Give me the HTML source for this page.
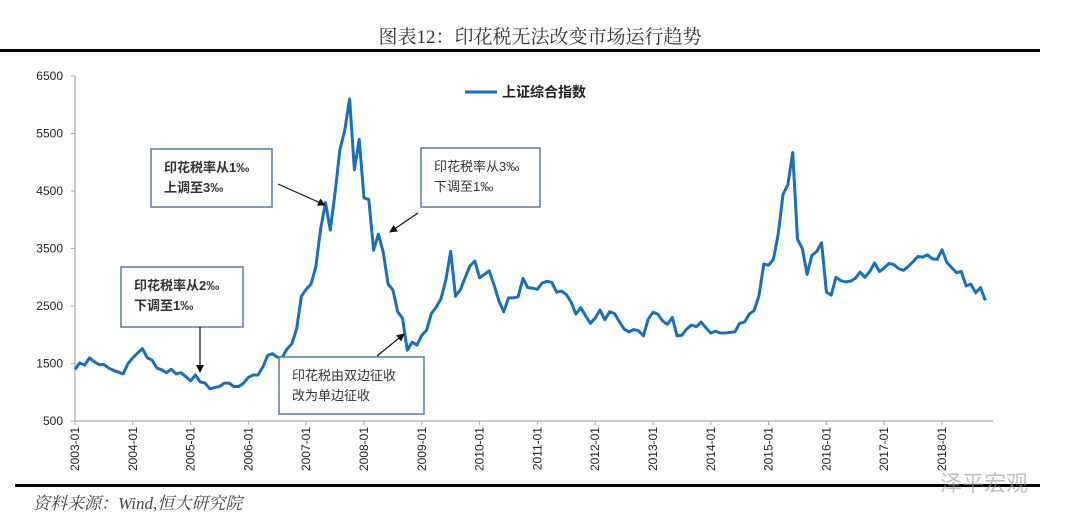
<!DOCTYPE html>
<html><head><meta charset="utf-8">
<style>
html,body{margin:0;padding:0;background:#fff;}
svg{display:block;font-family:"Liberation Sans","Noto Sans CJK SC",sans-serif;}
</style></head>
<body>
<svg id="chart" width="1080" height="530" viewBox="0 0 1080 530">
<text x="540" y="43" text-anchor="middle" font-family="'Liberation Serif','Noto Serif CJK SC',serif" font-size="19" fill="#333">图表12：印花税无法改变市场运行趋势</text>
<rect x="0" y="49" width="1040" height="3" fill="#000"/>
<g id="axes"></g>
<g id="series"></g>
<g>
<line x1="465" y1="92" x2="497" y2="92" stroke="#1a6fb8" stroke-width="3"/>
<text x="502" y="97" font-size="14" font-weight="bold" fill="#222">上证综合指数</text>
</g>
<g id="annotations"></g>
<rect x="15" y="484" width="1025" height="3" fill="#000"/>
<text x="33" y="509" font-family="'Liberation Serif','Noto Serif CJK SC',serif" font-style="italic" font-size="17" fill="#444">资料来源：Wind,恒大研究院</text>
<text x="940" y="491" font-size="22" fill="#999" opacity="0.6">泽平宏观</text>
</svg>
<script>
const startYear = 2003;
const yTicks = [500,1500,2500,3500,4500,5500,6500];
const xTickLabels = ["2003-01","2004-01","2005-01","2006-01","2007-01","2008-01","2009-01","2010-01","2011-01","2012-01","2013-01","2014-01","2015-01","2016-01","2017-01","2018-01"];
const indexValues = [
1400,1510,1470,1600,1530,1480,1480,1420,1380,1350,1320,1500,
1600,1680,1760,1600,1560,1420,1390,1340,1400,1320,1340,1270,
1200,1300,1180,1160,1060,1080,1100,1160,1160,1100,1100,1160,
1260,1300,1300,1440,1640,1670,1610,1600,1750,1840,2100,2670,
2790,2880,3180,3840,4300,3820,4470,5220,5550,6100,4870,5400,
4380,4350,3470,3750,3430,2880,2780,2400,2290,1730,1870,1820,
1990,2080,2370,2480,2630,2960,3450,2670,2780,2990,3200,3280,
2990,3050,3110,2870,2590,2400,2640,2640,2660,2980,2820,2810,
2790,2900,2930,2910,2740,2760,2700,2570,2360,2470,2330,2200,
2290,2430,2260,2400,2370,2230,2100,2050,2090,2070,1980,2270,
2390,2360,2240,2180,2300,1980,1990,2100,2170,2140,2220,2120,
2030,2060,2030,2030,2040,2050,2200,2220,2360,2420,2680,3230,
3210,3310,3750,4440,4610,5170,3660,3500,3050,3380,3450,3600,
2740,2690,3000,2940,2920,2930,2980,3090,3000,3100,3250,3100,
3160,3240,3220,3150,3120,3190,3270,3360,3350,3390,3320,3310,
3480,3260,3170,3080,3100,2850,2880,2730,2820,2600
];
const NS="http://www.w3.org/2000/svg";
const X0=75, YW=57.8, Y0=421, YT=76, VMIN=500, VMAX=6500;
function xScale(m){return X0 + m/12*YW;}
function yScale(v){return Y0 - (v-VMIN)/(VMAX-VMIN)*(Y0-YT);}
function mk(tag,attrs,parent){const e=document.createElementNS(NS,tag);for(const k in attrs)e.setAttribute(k,attrs[k]);parent.appendChild(e);return e;}
const axes=document.getElementById('axes');
let a=mk('line',{x1:X0,y1:YT,x2:X0,y2:Y0,stroke:'#aaa','stroke-width':1.2},axes);


a=mk('line',{x1:X0,y1:Y0,x2:993,y2:Y0,stroke:'#aaa','stroke-width':1.2},axes);


yTicks.forEach(v=>{
  const y=yScale(v);
  const t=mk('line',{x1:X0-4,y1:y,x2:X0,y2:y,stroke:'#aaa'},axes);
  
  
  const l=mk('text',{x:X0-12,y:y+4,'text-anchor':'end','font-size':12,fill:'#222'},axes);
  l.textContent=v;
  
  
});
xTickLabels.forEach((s,i)=>{
  const x=xScale(i*12);
  const t=mk('line',{x1:x,y1:Y0,x2:x,y2:Y0+4,stroke:'#aaa'},axes);
  
  
  const l=mk('text',{x:x+4,y:Y0+6,'text-anchor':'end','font-size':12,fill:'#222',transform:`rotate(-90 ${x+4} ${Y0+6})`},axes);
  l.textContent=s;
  
  
});
const pts=indexValues.map((v,i)=>xScale(i).toFixed(1)+','+yScale(v).toFixed(1)).join(' ');
const line=mk('polyline',{points:pts,fill:'none',stroke:'#1a6fb8','stroke-width':3,'stroke-linejoin':'round'},document.getElementById('series'));



const ann=document.getElementById('annotations');
const defs=mk('defs',{},ann);
const mkr=mk('marker',{id:'ah',markerWidth:8,markerHeight:8,refX:7,refY:4,orient:'auto',markerUnits:'userSpaceOnUse'},defs);
mk('path',{d:'M0,0 L8,4 L0,8 Z',fill:'#111'},mkr);
function box(x,y,w,h,lines,bold,name,arrow){
  const g=mk('g',{},ann);
  
  
  mk('rect',{x:x,y:y,width:w,height:h,fill:'#fff',stroke:'#5a7a99','stroke-width':1.5},g);
  lines.forEach((s,i)=>{const t=mk('text',{x:x+13,y:y+23+i*20,'font-size':13,'font-weight':bold?'bold':'normal',fill:'#333'},g);t.textContent=s;});
  const ar=mk('line',{x1:arrow[0],y1:arrow[1],x2:arrow[2],y2:arrow[3],stroke:'#111','stroke-width':1.2,'marker-end':'url(#ah)'},g);
  
  
}
box(151,149,121,58,['印花税率从1‰','上调至3‰'],true,'annotation-raise-2007',[278,184,325,205]);
box(421,148,119,59,['印花税率从3‰','下调至1‰'],false,'annotation-cut-2008',[418,213,390,232]);
box(121,267,122,60,['印花税率从2‰','下调至1‰'],true,'annotation-cut-2005',[200,327,200,372]);
box(279,357,145,57,['印花税由双边征收','改为单边征收'],false,'annotation-unilateral-2008',[377,356,404,334]);
</script>
</body></html>
